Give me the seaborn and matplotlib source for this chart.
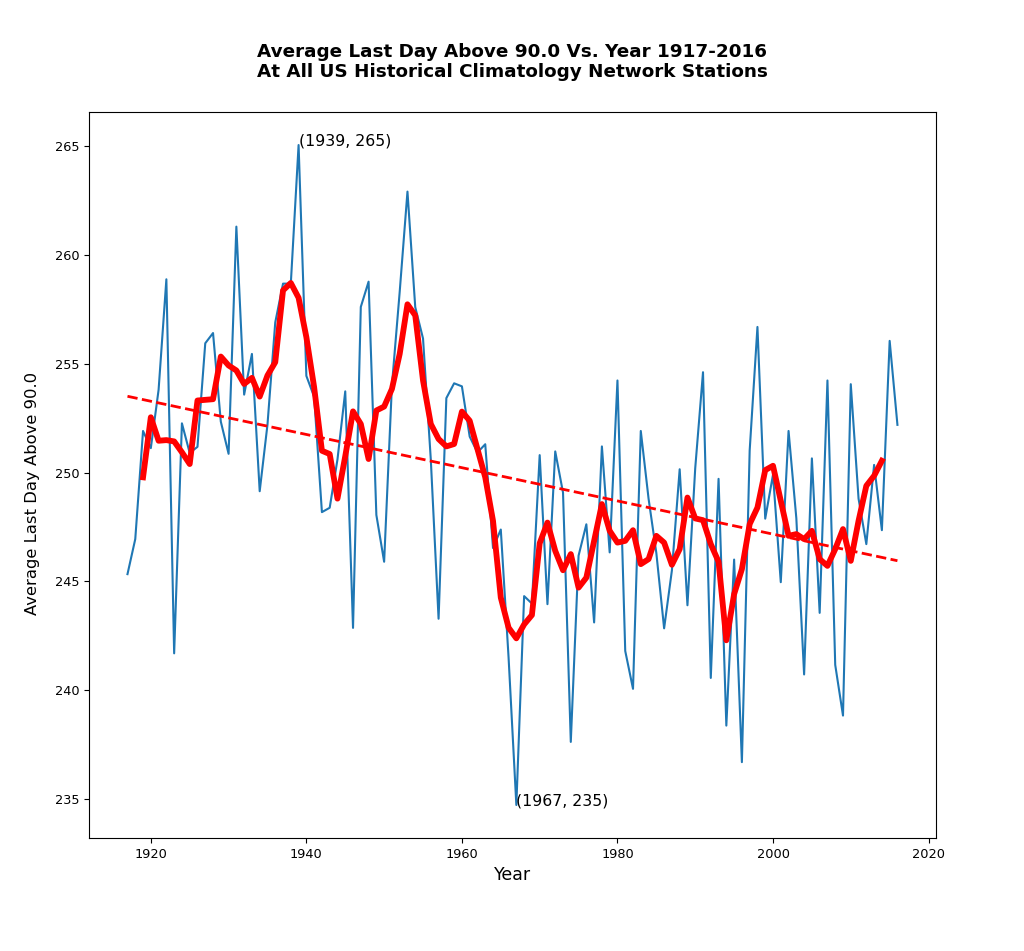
import numpy as np
import pandas as pd
import matplotlib
matplotlib.use('Agg')
import matplotlib.pyplot as plt
import seaborn as sns

# yearly average of last day above 90.0
years = list(range(1917, 2017))
last_day = [
    245.33, 246.94, 251.91, 251.12, 253.80, 258.88, 241.69, 252.26, 250.90, 251.18,  # 1917-1926
    255.94, 256.41, 252.34, 250.86, 261.30, 253.58, 255.45, 249.14, 252.20, 256.90,  # 1927-1936
    258.68, 258.68, 265.05, 254.44, 253.48, 248.18, 248.38, 250.60, 253.73, 242.86,  # 1937-1946
    257.61, 258.77, 248.05, 245.90, 254.00, 258.30, 262.91, 257.60, 256.16, 250.60,  # 1947-1956
    243.28, 253.42, 254.10, 253.96, 251.65, 250.92, 251.30, 246.53, 247.38, 241.50,  # 1957-1966
    234.72, 244.32, 243.98, 250.80, 243.95, 250.97, 249.08, 237.62, 246.18, 247.62,  # 1967-1976
    243.11, 251.20, 246.33, 254.23, 241.80, 240.06, 251.91, 248.80, 246.30, 242.84,  # 1977-1986
    245.50, 250.15, 243.90, 250.20, 254.61, 240.56, 249.71, 238.37, 246.00, 236.69,  # 1987-1996
    251.01, 256.69, 247.88, 249.90, 244.96, 251.91, 247.90, 240.72, 250.65, 243.55,  # 1997-2006
    254.23, 241.16, 238.83, 254.06, 248.80, 246.71, 250.35, 247.35, 256.05, 252.19,  # 2007-2016
]

# 5 year smoothed curve (red), also
smooth_years = list(range(1919, 2015))
smooth_vals = [
    249.78, 252.54, 251.46, 251.49, 251.43, 250.93, 250.39, 253.31, 253.34, 253.37,  # 1919-1928
    255.33, 254.92, 254.69, 254.07, 254.35, 253.49, 254.46, 255.07, 258.37, 258.71,  # 1929-1938
    258.03, 256.22, 253.92, 251.00, 250.85, 248.80, 250.75, 252.81, 252.23, 250.62,  # 1939-1948
    252.85, 253.03, 253.84, 255.45, 257.73, 257.22, 254.23, 252.23, 251.54, 251.20,  # 1949-1958
    251.31, 252.80, 252.38, 251.08, 249.78, 247.78, 244.25, 242.87, 242.38, 243.02,  # 1959-1968
    243.45, 246.75, 247.70, 246.40, 245.51, 246.25, 244.71, 245.17, 246.86, 248.55,  # 1969-1978
    247.32, 246.78, 246.86, 247.35, 245.79, 246.02, 247.09, 246.78, 245.76, 246.48,  # 1979-1988
    248.85, 247.89, 247.81, 246.71, 245.90, 242.29, 244.41, 245.56, 247.63, 248.39,  # 1989-1998
    250.11, 250.31, 248.70, 247.09, 247.17, 246.94, 247.32, 246.02, 245.71, 246.48,  # 1999-2008
    247.40, 245.94, 247.78, 249.39, 249.85, 250.54,                                  # 2009-2014
]

df = pd.DataFrame({'Year': years, 'LastDay': last_day})
sm = pd.DataFrame({'Year': smooth_years, 'LastDay': smooth_vals})

fig = plt.figure(figsize=(10.24, 9.51), dpi=100)
ax = fig.add_axes([0.0869, 0.1188, 0.8271, 0.7634])

sns.lineplot(data=df, x='Year', y='LastDay', ax=ax, color='#1f77b4', linewidth=1.5)
sns.lineplot(data=sm, x='Year', y='LastDay', ax=ax, color='red', linewidth=4.2)
sns.regplot(data=df, x='Year', y='LastDay', ax=ax, scatter=False, ci=None,
            color='red', line_kws={'linestyle': '--', 'linewidth': 2})

# mark the highest and lowest years
imax = int(np.argmax(last_day))
imin = int(np.argmin(last_day))
for i in (imax, imin):
    ax.text(years[i], last_day[i], f'({years[i]}, {int(round(last_day[i]))})', fontsize=11.3)

ax.margins(x=0.05, y=0.05)
ax.autoscale()
ax.set_xlabel('Year', fontsize=12.5)
ax.set_ylabel('Average Last Day Above 90.0', fontsize=11.8)
ax.yaxis.set_label_coords(-0.058, 0.475)
ax.tick_params(labelsize=9.3)
ax.set_title('Average Last Day Above 90.0 Vs. Year 1917-2016\n'
             'At All US Historical Climatology Network Stations',
             fontsize=13.2, fontweight='bold', pad=25)

fig.savefig('out.png', dpi=100)
